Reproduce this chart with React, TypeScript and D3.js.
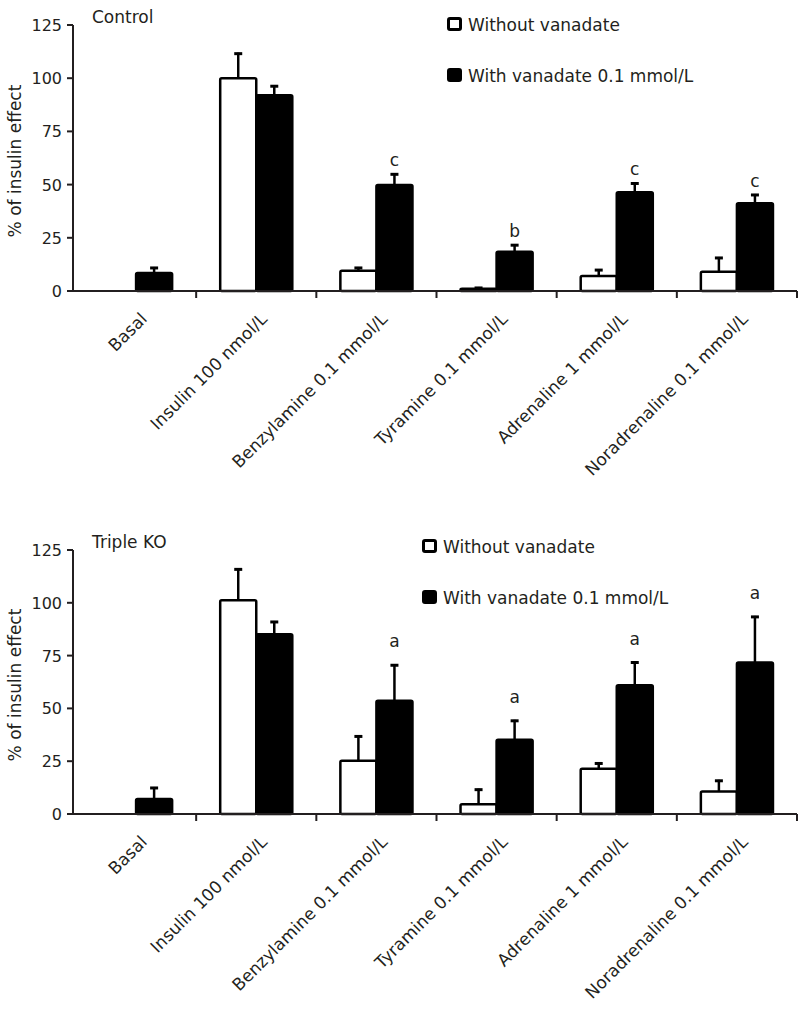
import React from "react";
import * as d3 from "d3";

// categories on the x axis (same for both panels)
const categories = [
  "Basal",
  "Insulin 100 nmol/L",
  "Benzylamine 0.1 mmol/L",
  "Tyramine 0.1 mmol/L",
  "Adrenaline 1 mmol/L",
  "Noradrenaline 0.1 mmol/L",
];
const seriesNames = ["Without vanadate", "With vanadate 0.1 mmol/L"];
const yTicks = [0, 25, 50, 75, 100, 125];

// Control panel (mean and upper SEM)
const controlWithout = [0, 100, 9.5, 1, 7, 9];
const controlWithoutErr = [0, 12, 1.8, 0.9, 3.3, 7];
const controlWith = [8.5, 92, 49.8, 18.5, 46.4, 41.2];
const controlWithErr = [2.8, 4.7, 5.5, 3.5, 4.6, 4.4];
const controlSig = ["", "", "c", "b", "c", "c"];

// Triple KO panel
const koWithout = [0, 101.2, 25.2, 4.6, 21.4, 10.7];
const koWithoutErr = [0, 15.1, 12, 7.4, 3, 5.5];
const koWith = [7.1, 85.1, 53.6, 35.1, 61, 71.7];
const koWithErr = [5.7, 6.3, 17.3, 9.5, 11.2, 22.1];
const koSig = ["", "", "a", "a", "a", "a"];

const INK = "#231f20";
const FONT = "'DejaVu Sans', Verdana, sans-serif";

const panels = [
  {
    title: "Control",
    without: controlWithout, withoutErr: controlWithoutErr,
    withV: controlWith, withErr: controlWithErr, sig: controlSig,
    top: 25, bottom: 291, sigGap: 7, legendX: 447, legendY: 17,
  },
  {
    title: "Triple KO",
    without: koWithout, withoutErr: koWithoutErr,
    withV: koWith, withErr: koWithErr, sig: koSig,
    top: 550, bottom: 814, sigGap: 17, legendX: 422, legendY: 539,
  },
];

const axisLeft = 73;
const axisRight = 797;

const Panel = ({ p }: { p: (typeof panels)[number] }) => {
  const x = d3.scaleBand<string>().domain(categories).range([76, axisRight]);
  const inner = d3
    .scaleBand<string>()
    .domain(seriesNames)
    .range([x.bandwidth() * 0.2, x.bandwidth() * 0.8]);
  const y = d3.scaleLinear().domain([0, 125]).range([p.bottom, p.top]);
  const bw = inner.bandwidth();

  const groups = [
    { name: seriesNames[0], vals: p.without, errs: p.withoutErr, fill: "#fff" },
    { name: seriesNames[1], vals: p.withV, errs: p.withErr, fill: "#000" },
  ];

  const tickXs = categories.slice(1).map((c) => x(c)!).concat([axisRight]);

  return (
    <g>
      {/* bars + error bars */}
      {groups.map((g) =>
        categories.map((c, i) => {
          const v = g.vals[i];
          if (!v) return null;
          const bx = x(c)! + inner(g.name)!;
          const cx = bx + bw / 2;
          const yTop = y(v);
          const yErr = y(v + g.errs[i]);
          return (
            <g key={g.name + c}>
              <line x1={cx} x2={cx} y1={yTop} y2={yErr} stroke="#000" strokeWidth={2.5} />
              <line x1={cx - 4} x2={cx + 4} y1={yErr + 1} y2={yErr + 1} stroke="#000" strokeWidth={3} />
              <rect
                x={bx}
                y={yTop}
                width={bw}
                height={p.bottom - yTop}
                fill={g.fill}
                stroke="#000"
                strokeWidth={2.5}
                rx={1.5}
              />
            </g>
          );
        })
      )}
      {/* significance letters */}
      {categories.map((c, i) =>
        p.sig[i] ? (
          <text
            key={"s" + c}
            x={x(c)! + inner(seriesNames[1])! + bw / 2}
            y={y(p.withV[i] + p.withErr[i]) - p.sigGap}
            textAnchor="middle"
            fontSize={17}
            fontFamily={FONT}
            fill={INK}
          >
            {p.sig[i]}
          </text>
        ) : null
      )}
      {/* y axis */}
      <line x1={axisLeft} x2={axisLeft} y1={p.top} y2={p.bottom} stroke={INK} strokeWidth={2} />
      {yTicks.map((t) => (
        <g key={t}>
          <line x1={axisLeft - 6} x2={axisLeft} y1={y(t)} y2={y(t)} stroke={INK} strokeWidth={2} />
          <text x={axisLeft - 11} y={y(t) + 6} textAnchor="end" fontSize={16} fontFamily={FONT} fill={INK}>
            {t}
          </text>
        </g>
      ))}
      <text
        transform={`translate(21,${(p.top + p.bottom) / 2 + 3}) rotate(-90)`}
        textAnchor="middle"
        fontSize={17}
        fontFamily={FONT}
        fill={INK}
      >
        % of insulin effect
      </text>
      {/* x axis */}
      <line x1={axisLeft} x2={axisRight} y1={p.bottom} y2={p.bottom} stroke={INK} strokeWidth={2} />
      {tickXs.map((tx, i) => (
        <line key={i} x1={tx} x2={tx} y1={p.bottom} y2={p.bottom + 7} stroke={INK} strokeWidth={2} />
      ))}
      {categories.map((c) => {
        const ex = x(c)! + x.bandwidth() / 2 + 12;
        const ey = p.bottom + 29;
        return (
          <text
            key={"l" + c}
            transform={`translate(${ex},${ey}) rotate(-45)`}
            textAnchor="end"
            fontSize={17}
            fontFamily={FONT}
            fill={INK}
          >
            {c}
          </text>
        );
      })}
      {/* panel title */}
      <text x={92} y={p.top - 2} fontSize={17} fontFamily={FONT} fill={INK}>
        {p.title}
      </text>
      {/* legend */}
      {groups.map((g, i) => (
        <g key={"lg" + i}>
          <rect
            x={p.legendX + 1.5}
            y={p.legendY + 1.5 + i * 51}
            width={12}
            height={11}
            rx={1.5}
            fill={g.fill}
            stroke="#000"
            strokeWidth={3}
          />
          <text
            x={p.legendX + 21}
            y={p.legendY + 14 + i * 51}
            fontSize={17}
            fontFamily={FONT}
            fill={INK}
          >
            {g.name}
          </text>
        </g>
      ))}
    </g>
  );
};

export default function App() {
  return (
    <svg
      width={800}
      height={1017}
      viewBox="0 0 800 1017"
      style={{ position: "absolute", left: 0, top: 0, background: "#fff" }}
    >
      {panels.map((p) => (
        <Panel key={p.title} p={p} />
      ))}
    </svg>
  );
}
